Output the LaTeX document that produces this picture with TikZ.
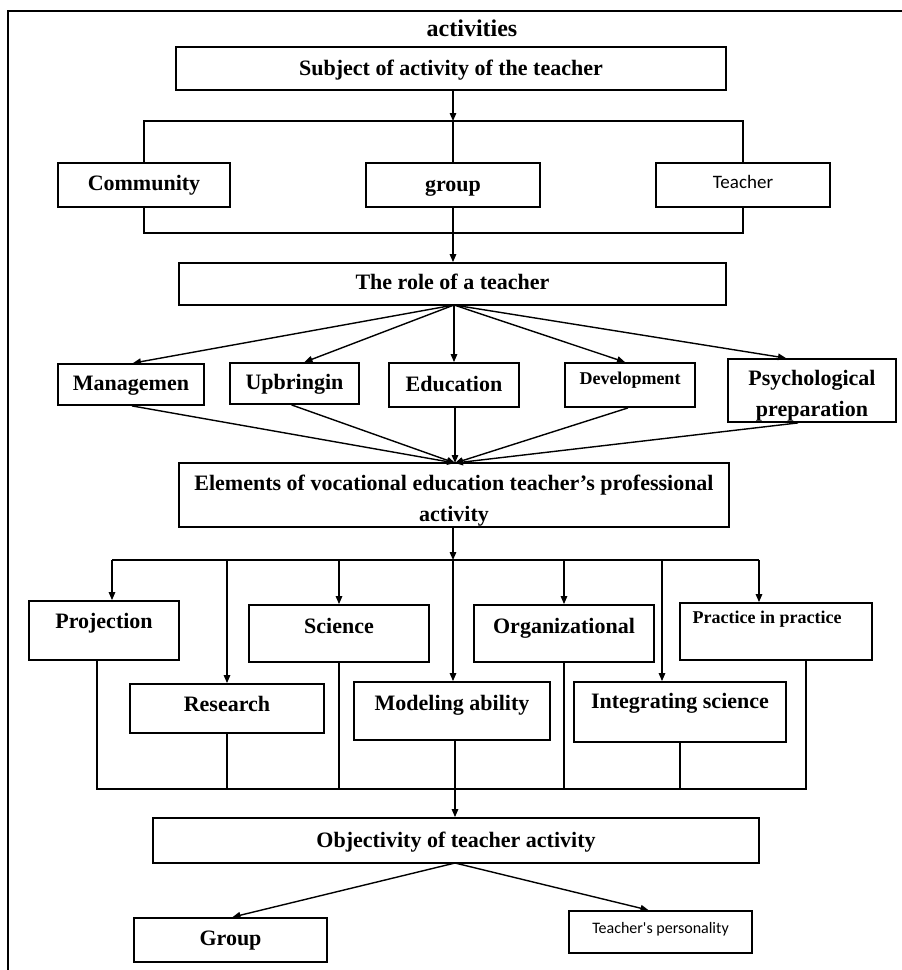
\documentclass[tikz,border=0pt]{standalone}
\usepackage{fontspec}
\setmainfont{Liberation Serif}
\newfontfamily\sansf{Carlito}
\usetikzlibrary{arrows.meta}
\tikzset{
  bx/.style={draw, line width=1.8pt, inner sep=0pt, align=center,
    font=\bfseries\fontsize{22}{31}\selectfont},
  box/.style={bx, text height=16pt, text depth=3pt},
  con/.style={line width=1.4pt},
  arr/.style={con, -{Triangle[length=8pt,width=6.5pt]}},
  frame/.style={line width=1.5pt},
}
\begin{document}
\begin{tikzpicture}[x=1pt,y=-1pt]
\useasboundingbox (0,0) rectangle (902,970);
% outer frame (open on right and bottom)
\coordinate (fTL) at (8,11);
\coordinate (fTR) at (902,11);
\coordinate (fBL) at (8,970);
\draw[frame] (fTR) -- (fTL) -- (fBL);
\node[font=\bfseries\fontsize{24}{28}\selectfont] (title) at (472,28) {activities};

% level 1
\node[box, minimum width=550pt, minimum height=43pt] (subj) at (451,68.5) {Subject of activity of the teacher};
\node[box, minimum width=172pt, minimum height=44pt, text depth=5pt] (comm) at (144,185) {Community};
\node[box, minimum width=174pt, minimum height=44pt] (grp1) at (453,185) {group};
\node[box, minimum width=174pt, minimum height=44pt, font=\sansf\fontsize{19}{23}\selectfont, text height=13pt, text depth=7pt] (teach) at (743,185) {Teacher};

\coordinate (t1) at (453,121);
\coordinate (t1L) at (144,121);
\coordinate (t1R) at (743,121);
\coordinate (b1) at (453,233);
\coordinate (b1L) at (144,233);
\coordinate (b1R) at (743,233);
\draw[arr] (subj.south -| t1) -- (t1);
\draw[con] (comm.north) -- (t1L) -- (t1R) -- (teach.north -| t1R);
\draw[con] (t1) -- (grp1.north);
\draw[con] (comm.south) -- (b1L) -- (b1R) -- (teach.south -| b1R);
\draw[con] (grp1.south) -- (b1);

% level 2
\node[box, minimum width=547pt, minimum height=42pt, text depth=5pt] (role) at (452.5,284) {The role of a teacher};
\draw[arr] (b1) -- (role.north -| b1);

\node[box, minimum width=146pt, minimum height=41pt, text depth=5pt] (mgmt) at (131,384.5) {Managemen};
\node[box, minimum width=129pt, minimum height=41pt, text depth=5pt] (upbr) at (294.5,383.5) {Upbringin};
\node[box, minimum width=130pt, minimum height=44pt] (educ) at (454,385) {Education};
\node[box, minimum width=130pt, minimum height=44pt, font=\bfseries\fontsize{18}{22}\selectfont, text height=13pt, text depth=15pt] (dev) at (630,385) {Development};
\node[bx, minimum width=168pt, minimum height=63pt] (psych) at (812,390.5) {\rule{0pt}{26pt}Psychological\\preparation};

\coordinate (rs) at (454,305);
\draw[arr] (rs) -- ([xshift=2pt]mgmt.north);
\draw[arr] (rs) -- ([xshift=10pt]upbr.north);
\draw[arr] (rs) -- (educ.north -| rs);
\draw[arr] (rs) -- ([xshift=-5pt]dev.north);
\draw[arr] (rs) -- ([xshift=-26pt]psych.north);

% level 3
\node[bx, minimum width=550pt, minimum height=64pt] (elem) at (454,495) {\rule{0pt}{26pt}Elements of vocational education teacher's professional\\activity};
\coordinate (et) at (455,463);
\draw[arr] ([xshift=1pt]mgmt.south) -- (et);
\draw[arr] ([xshift=-3pt]upbr.south) -- (et);
\draw[arr] (educ.south -| et) -- (et);
\draw[arr] ([xshift=-2pt]dev.south) -- (et);
\draw[arr] ([xshift=-14pt]psych.south) -- (et);

% level 4
\node[box, minimum width=150pt, minimum height=59pt, text depth=21pt] (proj) at (104,630.5) {Projection};
\node[box, minimum width=194pt, minimum height=49pt, text depth=11pt] (resr) at (227,708.5) {Research};
\node[box, minimum width=180pt, minimum height=57pt, text depth=17pt] (sci) at (339,633.5) {Science};
\node[box, minimum width=196pt, minimum height=58pt, text depth=18pt] (model) at (452,711) {Modeling ability};
\node[box, minimum width=180pt, minimum height=57pt, text depth=17pt] (org) at (564,633.5) {Organizational};
\node[box, minimum width=212pt, minimum height=60pt, text depth=24pt] (integ) at (680,712) {Integrating science};
\node[box, minimum width=192pt, minimum height=57pt, font=\bfseries\fontsize{18}{22}\selectfont, text height=13pt, text depth=30pt] (pract) at (776,631.5) {Practice in practice\rule{18pt}{0pt}};

\coordinate (t3) at (453,560);
\coordinate (t3L) at (112,560);
\coordinate (t3R) at (759,560);
\coordinate (t3I) at (662,560);
\draw[arr] (elem.south -| t3) -- (t3);
\draw[con] (t3L) -- (t3R);
\draw[arr] (t3L) -- (proj.north -| t3L);
\draw[arr] (t3 -| resr.north) -- (resr.north);
\draw[arr] (t3 -| sci.north) -- (sci.north);
\draw[arr] (t3) -- (model.north -| t3);
\draw[arr] (t3 -| org.north) -- (org.north);
\draw[arr] (t3I) -- (integ.north -| t3I);
\draw[arr] (t3R) -- (t3R |- pract.north);

\coordinate (b3) at (455,789);
\coordinate (b3L) at (97,789);
\coordinate (b3R) at (806,789);
\draw[con] (b3L |- proj.south) -- (b3L) -- (b3R) -- (b3R |- pract.south);
\draw[con] (resr.south) -- (b3 -| resr.south);
\draw[con] (sci.south) -- (b3 -| sci.south);
\draw[con] (model.south -| b3) -- (b3);
\draw[con] (org.south) -- (b3 -| org.south);
\draw[con] (integ.south) -- (b3 -| integ.south);

% level 5
\node[box, minimum width=606pt, minimum height=45pt] (obj) at (456,840.5) {Objectivity of teacher activity};
\draw[arr] (b3) -- (obj.north -| b3);
\node[box, minimum width=193pt, minimum height=44pt, text depth=6pt] (grp2) at (230.5,940) {Group};
\node[box, minimum width=183pt, minimum height=42pt, font=\sansf\fontsize{16}{20}\selectfont, text height=12pt, text depth=10pt] (pers) at (660.5,932) {Teacher's personality};
\coordinate (os) at (455,863);
\draw[arr] (os) -- ([xshift=2pt]grp2.north);
\draw[arr] (os) -- ([xshift=-12pt]pers.north);
\end{tikzpicture}
\end{document}
